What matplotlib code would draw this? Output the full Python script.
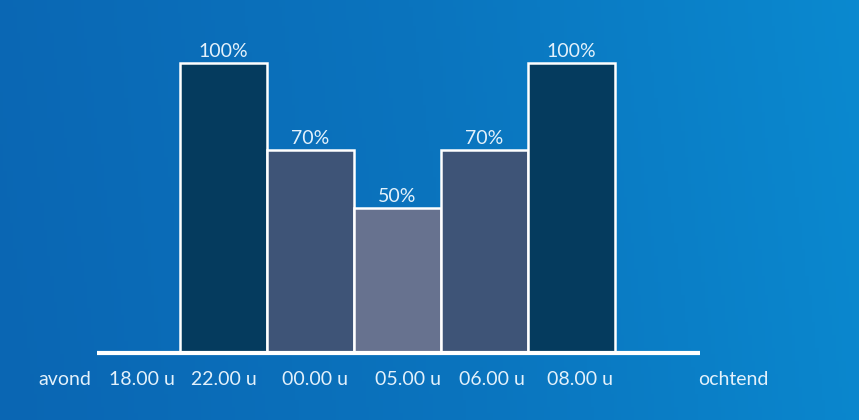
import matplotlib
matplotlib.use("Agg")
import matplotlib.pyplot as plt
import numpy as np
from matplotlib.colors import LinearSegmentedColormap

# data
values = [100, 70, 50, 70, 100]
value_labels = ["100%", "70%", "50%", "70%", "100%"]
tick_labels = ["avond", "18.00 u", "22.00 u", "00.00 u", "05.00 u", "06.00 u", "08.00 u", "ochtend"]
bar_colors = ["#053b5e", "#3e5477", "#67728f", "#3e5477", "#053b5e"]

# layout
W, H = 859, 420
PX = 87.0          # pixels per bar unit
X0 = 180.0         # px of first bar left edge
Y0 = 353.0         # px of baseline
PY = 2.9           # px per percent
tick_pos = [-1.32, -0.44, 0.506, 1.55, 2.62, 3.59, 4.6, 6.36]
FS = 14

fig = plt.figure(figsize=(W / 100, H / 100), dpi=100)
ax = fig.add_axes([0, 0, 1, 1])
xl = (-X0 / PX, (W - X0) / PX)
yl = (-(H - Y0) / PY, Y0 / PY)
ax.set_xlim(*xl)
ax.set_ylim(*yl)
ax.axis("off")

# gradient background
cmap = LinearSegmentedColormap.from_list("bg", ["#0a66b3", "#0a74be", "#0a8ad0"])
grad = np.linspace(0, 1, 256)[None, :] * 0.92 + np.linspace(0.06, 0, 64)[:, None]
ax.imshow(grad, extent=[xl[0], xl[1], yl[0], yl[1]], aspect="auto", cmap=cmap,
          vmin=0, vmax=1, zorder=0, origin="upper")

xs = np.arange(len(values))
ax.bar(xs, values, width=1.0, align="edge", color=bar_colors,
       edgecolor="white", linewidth=1.8, zorder=2)

for x, v, lab in zip(xs, values, value_labels):
    ax.text(x + 0.5, v + 1.2, lab, ha="center", va="bottom", color="#e3f1fb",
            fontsize=FS, family="Lato", zorder=3)

ax.plot([(97 - X0) / PX, (700 - X0) / PX], [0, 0], color="white", lw=3,
        solid_capstyle="butt", zorder=3)

for p, t in zip(tick_pos, tick_labels):
    ax.text(p, -9.3, t, ha="center", va="center", color="#e3f1fb",
            fontsize=FS, family="Lato", zorder=3)

fig.savefig("out.png", dpi=100)
